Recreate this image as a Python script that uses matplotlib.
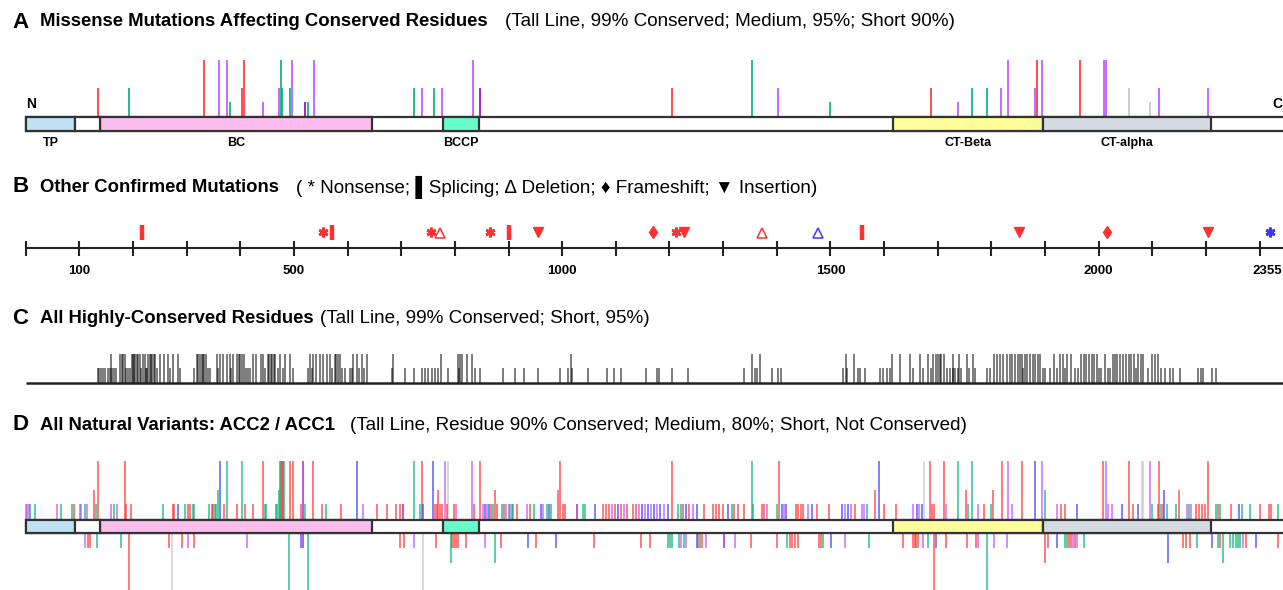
import matplotlib
matplotlib.use("Agg")
import matplotlib.pyplot as plt

# protein length and domains (residue numbers)
length = 2355
domains = [("TP", 0, 92, "#bfe3f5"), ("BC", 139, 645, "#fdbdef"),
           ("BCCP", 778, 845, "#66ffcc"), ("CT-Beta", 1616, 1896, "#ffff99"),
           ("CT-alpha", 1896, 2209, "#d5dbe3")]

colors = {"r": "#ff3030", "g": "#00b277", "b": "#3a3aff", "m": "#c44dff",
          "p": "#9000c8", "k": "#c4c4c4"}

# A: missense mutations at conserved residues
a_tall = [(332, "r"), (361, "m"), (376, "m"), (407, "r"), (476, "g"), (496, "m"),
          (537, "m"), (833, "m"), (1354, "g"), (1831, "m"), (1885, "r"), (1894, "m"),
          (1965, "r"), (2010, "m"), (2013, "m")]
a_mid = [(134, "r"), (193, "g"), (404, "r"), (472, "m"), (478, "g"), (492, "g"),
         (724, "g"), (739, "m"), (762, "g"), (776, "m"), (847, "p"), (1205, "r"),
         (1403, "m"), (1687, "r"), (1763, "g"), (1792, "g"), (1818, "m"), (1881, "m"),
         (2056, "k"), (2112, "m"), (2204, "m")]
a_short = [(381, "g"), (443, "m"), (520, "p"), (527, "g"), (1500, "g"), (1737, "m"),
           (2095, "k")]

# B: other confirmed mutations
b_nonsense = [(555, "r"), (756, "r"), (865, "r"), (1212, "r"), (2320, "b")]
b_splicing = [(216, "r"), (571, "r"), (900, "r"), (1558, "r")]
b_deletion = [(773, "r"), (1372, "r"), (1476, "b")]
b_frameshift = [(1169, "r"), (2016, "r")]
b_insertion = [(954, "r"), (1228, "r"), (1851, "r"), (2204, "r")]
b_ticks = list(range(0, 2301, 100))
b_labels = [100, 500, 1000, 1500, 2000, 2355]

# C: highly conserved residues
c_tall = [159, 176, 180, 182, 185, 198, 200, 202, 204, 207, 210, 213, 219, 222, 228,
          231, 233, 236, 239, 241, 250, 258, 266, 275, 283, 319, 322, 325, 328, 330,
          333, 336, 356, 362, 367, 375, 380, 387, 393, 397, 400, 403, 406, 424, 430,
          438, 443, 452, 454, 457, 460, 463, 465, 474, 483, 493, 530, 536, 542, 549,
          555, 562, 567, 576, 579, 582, 586, 611, 617, 626, 636, 685, 775, 806, 809,
          813, 823, 831, 1016, 1353, 1369, 1529, 1544, 1614, 1630, 1648, 1667, 1682,
          1692, 1697, 1701, 1704, 1707, 1712, 1729, 1740, 1754, 1766, 1804, 1810,
          1816, 1821, 1829, 1835, 1839, 1844, 1849, 1853, 1857, 1863, 1867, 1872,
          1877, 1881, 1886, 1891, 1917, 1928, 1934, 1941, 1948, 1968, 1973, 1977,
          1982, 1987, 1991, 1996, 2012, 2026, 2030, 2035, 2040, 2046, 2051, 2056,
          2060, 2065, 2074, 2079, 2083, 2099, 2105, 2111]
c_short = [134, 137, 140, 144, 148, 153, 157, 161, 165, 168, 187, 191, 194, 215, 224,
           226, 245, 269, 288, 314, 340, 343, 358, 383, 411, 414, 418, 446, 470, 480,
           498, 526, 534, 571, 590, 595, 604, 608, 621, 631, 682, 707, 723, 738, 744,
           750, 757, 763, 769, 788, 808, 837, 847, 890, 912, 929, 955, 996, 1011,
           1019, 1049, 1083, 1097, 1110, 1156, 1176, 1180, 1204, 1235, 1338, 1359,
           1364, 1392, 1403, 1407, 1523, 1531, 1552, 1556, 1564, 1592, 1598, 1605,
           1611, 1654, 1673, 1687, 1717, 1723, 1728, 1732, 1738, 1743, 1759, 1769,
           1792, 1797, 1859, 1896, 1900, 1909, 1922, 1937, 1956, 1961, 2001, 2004,
           2017, 2021, 2069, 2092, 2117, 2124, 2133, 2139, 2152, 2186, 2190, 2195,
           2211, 2219]

# D: natural variants, above bar = ACC2, below bar = ACC1
d_up_tall = [(135, "r"), (185, "r"), (362, "b"), (375, "g"), (403, "g"), (442, "r"),
             (474, "r"), (476, "g"), (478, "r"), (480, "r"), (481, "g"), (493, "r"),
             (499, "r"), (517, "p"), (536, "r"), (617, "b"), (724, "g"), (739, "r"),
             (760, "b"), (781, "m"), (787, "k"), (831, "m"), (846, "r"), (996, "r"),
             (1204, "r"), (1353, "g"), (1404, "r"), (1591, "b"), (1675, "k"),
             (1686, "r"), (1712, "r"), (1737, "g"), (1764, "g"), (1819, "r"),
             (1831, "m"), (1857, "r"), (1881, "b"), (1895, "m"), (2009, "r"),
             (2013, "m"), (2056, "r"), (2081, "k"), (2083, "k"), (2096, "m"),
             (2113, "r"), (2204, "r")]
d_up_mid = [(127, "r"), (359, "g"), (472, "g"), (769, "r"), (875, "r"), (993, "r"),
            (1584, "r"), (1753, "r"), (1803, "r"), (1900, "g"), (2122, "b"), (2150, "r")]
d_up_short = [(1, "m"), (3, "m"), (6, "m"), (8, "g"), (17, "g"), (58, "m"), (65, "g"),
              (86, "g"), (90, "r"), (101, "g"), (103, "m"), (110, "g"), (114, "m"),
              (131, "g"), (159, "m"), (165, "g"), (171, "m"), (187, "r"), (196, "r"),
              (255, "g"), (274, "r"), (276, "r"), (284, "b"), (297, "g"), (303, "r"),
              (306, "r"), (311, "g"), (314, "g"), (342, "g"), (347, "r"), (350, "r"),
              (353, "g"), (355, "g"), (370, "r"), (394, "r"), (409, "r"), (424, "r"),
              (446, "g"), (448, "g"), (466, "g"), (469, "g"), (513, "r"), (521, "g"),
              (552, "r"), (560, "g"), (587, "r"), (629, "m"), (655, "r"), (674, "r"),
              (690, "r"), (698, "r"), (703, "p"), (735, "g"), (741, "b"), (763, "r"),
              (767, "r"), (772, "r"), (776, "r"), (785, "r"), (798, "r"), (803, "m"),
              (836, "r"), (852, "m"), (856, "b"), (860, "m"), (864, "b"), (867, "r"),
              (871, "g"), (878, "r"), (887, "g"), (891, "r"), (895, "m"), (900, "g"),
              (903, "m"), (906, "g"), (909, "g"), (916, "r"), (934, "m"), (940, "r"),
              (947, "g"), (960, "b"), (964, "m"), (972, "g"), (976, "b"), (980, "g"),
              (1001, "r"), (1005, "r"), (1028, "p"), (1038, "g"), (1042, "g"),
              (1061, "b"), (1076, "r"), (1082, "r"), (1087, "r"), (1093, "m"),
              (1098, "r"), (1104, "b"), (1110, "r"), (1115, "m"), (1121, "r"),
              (1132, "r"), (1138, "r"), (1143, "m"), (1149, "b"), (1154, "m"),
              (1160, "b"), (1165, "m"), (1171, "b"), (1177, "m"), (1182, "b"),
              (1190, "m"), (1197, "b"), (1216, "g"), (1221, "g"), (1226, "r"),
              (1231, "b"), (1237, "r"), (1244, "m"), (1251, "b"), (1264, "r"),
              (1281, "r"), (1287, "r"), (1292, "r"), (1299, "r"), (1309, "b"),
              (1316, "g"), (1320, "r"), (1328, "r"), (1338, "r"), (1356, "g"),
              (1372, "r"), (1377, "r"), (1382, "m"), (1400, "g"), (1409, "b"),
              (1413, "m"), (1418, "b"), (1436, "r"), (1440, "r"), (1445, "r"),
              (1449, "r"), (1458, "m"), (1465, "b"), (1475, "r"), (1498, "r"),
              (1521, "b"), (1527, "m"), (1533, "b"), (1538, "m"), (1546, "r"),
              (1558, "m"), (1563, "m"), (1568, "g"), (1599, "r"), (1623, "r"),
              (1654, "m"), (1661, "b"), (1665, "m"), (1670, "b"), (1689, "r"),
              (1693, "r"), (1715, "m"), (1756, "g"), (1776, "m"), (1786, "r"),
              (1799, "g"), (1839, "m"), (1922, "m"), (1929, "r"), (1937, "r"),
              (1960, "b"), (2018, "m"), (2024, "m"), (2043, "b"), (2064, "r"),
              (2074, "b"), (2099, "g"), (2110, "r"), (2116, "g"), (2120, "r"),
              (2127, "g"), (2144, "g"), (2164, "m"), (2168, "g"), (2172, "m"),
              (2181, "r"), (2187, "r"), (2193, "r"), (2198, "r"), (2219, "g"),
              (2222, "r"), (2226, "g"), (2247, "r"), (2262, "b"), (2268, "g"),
              (2282, "g"), (2301, "r"), (2318, "r"), (2322, "r"), (2335, "g")]
d_dn_tall = [(192, "r"), (272, "k"), (491, "g"), (527, "g"), (740, "k"), (1693, "r"),
             (1791, "g")]
d_dn_mid = [(792, "g"), (875, "g"), (1900, "r"), (2130, "b"), (2231, "g")]
d_dn_short = [(110, "m"), (117, "r"), (120, "r"), (133, "g"), (177, "g"), (267, "r"),
              (291, "r"), (303, "m"), (314, "r"), (412, "m"), (513, "b"), (516, "p"),
              (698, "r"), (705, "r"), (724, "m"), (764, "r"), (794, "r"), (798, "r"),
              (802, "r"), (806, "r"), (821, "r"), (856, "m"), (886, "r"), (936, "b"),
              (952, "r"), (988, "b"), (1059, "r"), (1146, "r"), (1164, "r"),
              (1197, "g"), (1201, "g"), (1204, "g"), (1218, "g"), (1222, "m"),
              (1227, "g"), (1231, "m"), (1251, "b"), (1254, "r"), (1257, "g"),
              (1260, "r"), (1269, "m"), (1302, "p"), (1323, "m"), (1352, "r"),
              (1400, "r"), (1419, "g"), (1425, "r"), (1428, "r"), (1434, "r"),
              (1440, "r"), (1479, "r"), (1482, "r"), (1487, "g"), (1502, "b"),
              (1527, "m"), (1571, "g"), (1636, "r"), (1653, "r"), (1657, "r"),
              (1660, "r"), (1664, "r"), (1673, "m"), (1682, "g"), (1697, "b"),
              (1715, "r"), (1755, "r"), (1771, "r"), (1776, "m"), (1804, "m"),
              (1830, "m"), (1906, "r"), (1922, "b"), (1937, "g"), (1941, "g"),
              (1945, "r"), (1948, "r"), (1952, "m"), (1956, "r"), (1959, "m"),
              (1973, "g"), (2157, "r"), (2163, "r"), (2170, "r"), (2183, "g"),
              (2211, "b"), (2223, "g"), (2226, "r"), (2245, "g"), (2250, "g"),
              (2256, "g"), (2260, "g"), (2264, "g"), (2269, "m"), (2275, "r"),
              (2293, "b"), (2335, "r")]

W, H = 1283, 590
plt.rcParams["font.family"] = ["Liberation Sans", "DejaVu Sans"]
fig = plt.figure(figsize=(W / 100, H / 100), dpi=100)
ax = fig.add_axes([0, 0, 1, 1])
ax.set_xlim(-47.9, 2343.6)   # the picture is cropped at the right
ax.set_ylim(H, 0)            # y measured in pixels from the top
ax.axis("off")


def heading(y, letter, bold, rest, x_rest):
    fig.text(12 / W, 1 - y / H, letter, fontsize=16, weight="bold", va="center")
    fig.text(40 / W, 1 - y / H, bold, fontsize=13.3, weight="bold", va="center")
    fig.text(x_rest / W, 1 - y / H, rest, fontsize=13.6, va="center")


def domain_bar(yc, h, labels):
    ax.barh(yc, length, height=h, left=0, color="white", edgecolor="#333333",
            linewidth=1.6, zorder=3)
    for name, s, e, c in domains:
        ax.barh(yc, e - s, height=h, left=s, color=c, edgecolor="#333333",
                linewidth=1.6, zorder=3)
    ax.barh(yc, 139 - 92, height=h, left=92, color="white", edgecolor="#333333",
            linewidth=1.6, zorder=3)
    if labels:
        for name, s, e, c in domains:
            ax.text((s + e) / 2, yc + 19, name, fontsize=9, weight="bold",
                    ha="center", va="center")


def sticks(data, y0, y1, lw=1.2, alpha=1.0):
    for pos, c in data:
        ax.vlines(pos, y0, y1, color=colors[c], linewidth=lw, alpha=alpha, zorder=2)


# ---- A
heading(22, "A", "Missense Mutations Affecting Conserved Residues",
        "(Tall Line, 99% Conserved; Medium, 95%; Short 90%)", 505)
sticks(a_tall, 117, 60)
sticks(a_mid, 117, 88)
sticks(a_short, 117, 102)
domain_bar(124, 14, True)
ax.text(0, 104, "N", fontsize=10, weight="bold", ha="left", va="center")
fig.text(1282 / W, 1 - 104 / H, "C", fontsize=10, weight="bold", ha="right", va="center")

# ---- B
heading(187, "B", "Other Confirmed Mutations",
        "( * Nonsense; \u258cSplicing; \u2206 Deletion; \u2666 Frameshift; \u25bc Insertion)",
        296)
ax.hlines(248, 0, length, color="#222222", linewidth=1.5)
ax.vlines(b_ticks, 241, 256, color="#222222", linewidth=1.5)
for t in b_labels[:-1]:
    ax.text(t, 271, str(t), fontsize=9.5, weight="bold", ha="center", va="center")
fig.text(1282 / W, 1 - 271 / H, str(b_labels[-1]), fontsize=9.5, weight="bold",
         ha="right", va="center")
ym = 232
for pos, c in b_splicing:
    ax.vlines(pos, ym - 7.5, ym + 7.5, color=colors[c], linewidth=3.2)
for pos, c in b_nonsense:
    ax.plot(pos, ym, marker=(6, 2, 0), ms=7, mew=2.0, color=colors[c])
for pos, c in b_deletion:
    ax.plot(pos, ym + 1, marker="^", ms=7, mfc="none", mew=1.1, color=colors[c])
for pos, c in b_frameshift:
    ax.plot(pos, ym, marker="d", ms=6.5, color=colors[c])
for pos, c in b_insertion:
    ax.plot(pos, ym, marker="v", ms=7, color=colors[c])

# ---- C
heading(318, "C", "All Highly-Conserved Residues",
        "(Tall Line, 99% Conserved; Short, 95%)", 320)
ax.vlines(c_tall, 383, 354, color="black", linewidth=1.2, alpha=0.6)
ax.vlines(c_short, 383, 368, color="black", linewidth=1.2, alpha=0.6)
ax.hlines(383, 0, length, color="#222222", linewidth=1.8)

# ---- D
heading(425, "D", "All Natural Variants: ACC2 / ACC1",
        "(Tall Line, Residue 90% Conserved; Medium, 80%; Short, Not Conserved)", 350)
sticks(d_up_tall, 520, 461, alpha=0.75)
sticks(d_up_mid, 520, 490, alpha=0.75)
sticks(d_up_short, 520, 504, alpha=0.75)
sticks(d_dn_tall, 533, 600, alpha=0.75)
sticks(d_dn_mid, 533, 563, alpha=0.75)
sticks(d_dn_short, 533, 548, alpha=0.75)
domain_bar(526.5, 13, False)

fig.savefig("out.png", dpi=100)
